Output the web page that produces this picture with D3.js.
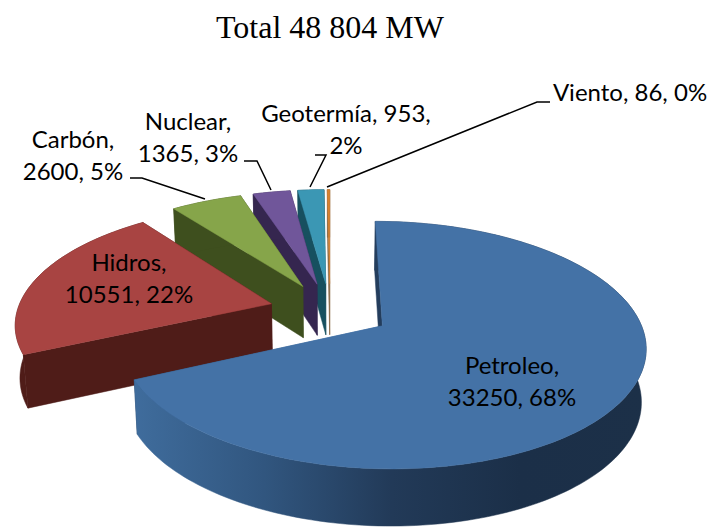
<!DOCTYPE html>
<html>
<head>
<meta charset="utf-8">
<script src="https://cdn.jsdelivr.net/npm/d3@7"></script>
<style>
  html, body { margin: 0; padding: 0; background: #fff; }
  svg { display: block; }
</style>
</head>
<body>
<div id="chart"></div>
<script>
// Chart data
const categories = ["Petroleo", "Hidros", "Carbón", "Nuclear", "Geotermía", "Viento"];
const values = [33250, 10551, 2600, 1365, 953, 86];
const percents = [68, 22, 5, 3, 2, 0];
const title = "Total 48 804 MW";

// Colours per slice
const topColors = ["#4472a6", "#a84442", "#86a54a", "#70569a", "#3b97b4", "#d9812f"];
const wallColors = ["url(#petroleoWall)", "#4f1c18", "#3e4f1e", "#35264f", "#17505f", "#8a6a48"];

// Label layout: words on first line, centre x, first baseline y
const labelWords = [1, 1, 1, 1, 2, 3];
const labelPos = [[512, 374], [129, 271], [73, 148], [188, 130], [346, 122], [630, 101]];

// Leader lines, slice index then points
const leaders = [
  [2, [[130, 178], [142, 178], [205, 199]]],
  [3, [[244, 161], [257, 161], [271, 190]]],
  [4, [[315, 155], [326, 155], [310, 187]]],
  [5, [[550, 102], [537, 102], [327, 187]]]
];

const width = 710;
const height = 528;

// 3D projection settings of the exploded pie
const originX = 330, originY = 310.5;
const radiusX = 254, radiusY = 116;
const perspective = 0.153;
const explode = 0.24;
const depth = 52;
const bottomShrink = 0.985;

const svg = d3.select("#chart").append("svg")
    .attr("width", width)
    .attr("height", height);

const defs = svg.append("defs");

const grad = defs.append("linearGradient")
    .attr("id", "petroleoWall")
    .attr("gradientUnits", "userSpaceOnUse")
    .attr("x1", 136).attr("x2", 648).attr("y1", 0).attr("y2", 0);
grad.selectAll("stop")
    .data([[0, "#3f6c9c"], [0.25, "#31567f"], [0.5, "#223a58"], [0.75, "#1b2f48"], [1, "#1c3048"]])
    .enter().append("stop")
    .attr("offset", d => d[0])
    .attr("stop-color", d => d[1]);

// Inner edge of the big slice fades up into the top colour
const edge = defs.append("linearGradient")
    .attr("id", "petroleoEdge")
    .attr("x1", 0).attr("x2", 0).attr("y1", 0).attr("y2", 1);
edge.append("stop").attr("offset", 0.1).attr("stop-color", "#4472a6");
edge.append("stop").attr("offset", 0.6).attr("stop-color", "#1f3a5a");

const arcs = d3.pie().sort(null)(values);

// Plane point to screen, down = extruded to the bottom face
function project(px, py, down) {
  const s = 1 / (1 + perspective * py);
  const x = radiusX * px * s;
  return [
    originX + (down ? x * bottomShrink : x),
    originY - radiusY * py * s + (down ? depth * Math.sqrt(s) : 0)
  ];
}

function slicePoints(a) {
  const mid = (a.startAngle + a.endAngle) / 2;
  const ax = explode * Math.sin(mid);
  const ay = explode * Math.cos(mid);
  const n = Math.max(2, Math.ceil((a.endAngle - a.startAngle) * 40));
  const rim = d3.range(n + 1).map(i => {
    const t = a.startAngle + (a.endAngle - a.startAngle) * i / n;
    return [ax + Math.sin(t), ay + Math.cos(t)];
  });
  return { apex: [ax, ay], rim };
}

const line = d3.line();

function poly(g, pts, fill) {
  g.append("path")
      .attr("d", line(pts) + "Z")
      .attr("fill", fill)
      .attr("stroke", fill)
      .attr("stroke-width", 0.5);
}

// Draw back to front
const order = d3.range(arcs.length).reverse();
order.forEach(i => {
  const { apex, rim } = slicePoints(arcs[i]);
  const g = svg.append("g").attr("class", "slice");
  const first = rim[0];
  const last = rim[rim.length - 1];
  const wall = a => [project(...apex), project(...a), project(...a, true), project(...apex, true)];

  poly(g, wall(last), i === 0 ? "url(#petroleoEdge)" : wallColors[i]);
  poly(g, wall(first), wallColors[i]);
  poly(g, rim.map(p => project(...p)).concat(rim.slice().reverse().map(p => project(...p, true))), wallColors[i]);
  poly(g, [project(...apex)].concat(rim.map(p => project(...p))), topColors[i]);
});

// Leader lines
svg.append("g").selectAll("path")
    .data(leaders)
    .enter().append("path")
    .attr("d", d => line(d[1]))
    .attr("fill", "none")
    .attr("stroke", "#000")
    .attr("stroke-width", 1.5);

// Labels
const labels = svg.append("g").selectAll("text")
    .data(categories)
    .enter().append("text")
    .attr("text-anchor", "middle")
    .attr("font-family", "Lato, 'Open Sans', sans-serif")
    .attr("font-size", 24)
    .attr("fill", "#000");

labels.each(function(d, i) {
  const words = `${d}, ${values[i]}, ${percents[i]}%`.split(" ");
  const lines = [words.slice(0, labelWords[i]), words.slice(labelWords[i])]
      .filter(w => w.length).map(w => w.join(" "));
  d3.select(this).selectAll("tspan")
      .data(lines)
      .enter().append("tspan")
      .attr("x", labelPos[i][0])
      .attr("y", (l, j) => labelPos[i][1] + j * 32)
      .text(l => l);
});

// Title
svg.append("text")
    .attr("x", 330)
    .attr("y", 38)
    .attr("text-anchor", "middle")
    .attr("font-family", "'Liberation Serif', serif")
    .attr("font-size", 32)
    .attr("fill", "#000")
    .text(title);
</script>
</body>
</html>
